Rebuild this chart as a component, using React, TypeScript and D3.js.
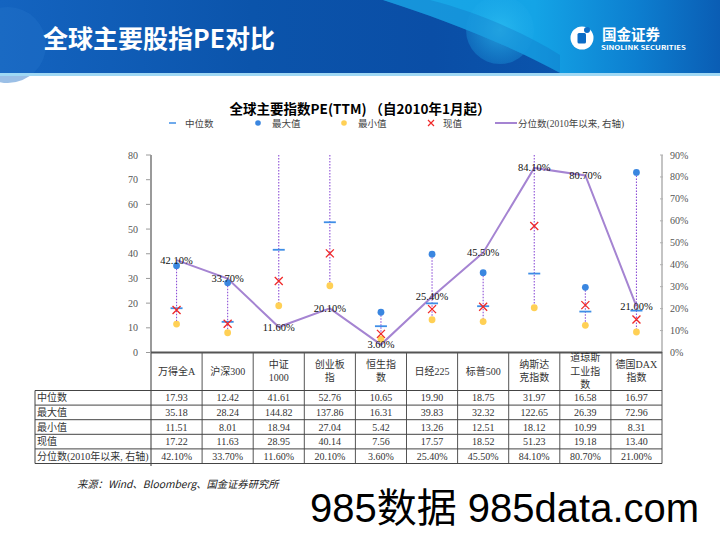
import React from "react";
import * as d3 from "d3";

const categories = ["万得全A", "沪深300", "中证\n1000", "创业板\n指", "恒生指\n数", "日经225", "标普500", "纳斯达\n克指数", "道琼斯\n工业指\n数", "德国DAX\n指数"];
const medianVals = [17.93, 12.42, 41.61, 52.76, 10.65, 19.9, 18.75, 31.97, 16.58, 16.97];
const maxVals = [35.18, 28.24, 144.82, 137.86, 16.31, 39.83, 32.32, 122.65, 26.39, 72.96];
const minVals = [11.51, 8.01, 18.94, 27.04, 5.42, 13.26, 12.51, 18.12, 10.99, 8.31];
const currentVals = [17.22, 11.63, 28.95, 40.14, 7.56, 17.57, 18.52, 51.23, 19.18, 13.4];
const pctVals = [42.1, 33.7, 11.6, 20.1, 3.6, 25.4, 45.5, 84.1, 80.7, 21.0];
const leftTicks = [0, 10, 20, 30, 40, 50, 60, 70, 80];
const rightTicks = [0, 10, 20, 30, 40, 50, 60, 70, 80, 90];
const rowLabels = ["中位数", "最大值", "最小值", "现值", "分位数(2010年以来, 右轴)"];

const SERIF = "'Liberation Serif','DejaVu Serif','Noto Sans CJK SC',serif";
const SANS = "'Noto Sans CJK SC','Noto Sans',sans-serif";

const C_MED = "#3f8ee6";
const C_MAX = "#3a86e0";
const C_MIN = "#ffd055";
const C_CUR = "#f02828";
const C_LINE = "#a584d2";
const C_DOT = "#8d4fd6";

export default function App() {
  const plotL = 151, plotR = 662, plotT = 155, plotB = 352.5;
  const x = d3.scaleBand<string>().domain(categories).range([plotL, plotR]).paddingInner(0).paddingOuter(0);
  const yL = d3.scaleLinear().domain([0, 80]).range([plotB, plotT]);
  const yR = d3.scaleLinear().domain([0, 90]).range([plotB, plotT]);
  const cx = (i: number) => (x(categories[i]) as number) + x.bandwidth() / 2;
  const clampY = (v: number) => Math.max(plotT, yL(v));

  const line = d3.line<number>().x((_, i) => cx(i)).y((d) => yR(d));

  const tableTop = plotB;
  const headerBottom = 390.5;
  const rowH = 14.6;
  const tableLeft = 35;
  const rowsData = [medianVals, maxVals, minVals, currentVals, pctVals];
  const fmtRow = (r: number, v: number) => (r === 4 ? v.toFixed(2) + "%" : v.toFixed(2));

  return (
    <div style={{ position: "absolute", left: 0, top: 0, width: 720, height: 540, background: "#fff" }}>
      <svg width={720} height={540} xmlns="http://www.w3.org/2000/svg" style={{ display: "block" }}>
        <defs>
          <linearGradient id="hdr" x1="0" x2="1" y1="0" y2="0">
            <stop offset="0" stopColor="#1464c0" />
            <stop offset="0.35" stopColor="#0b54ab" />
            <stop offset="0.6" stopColor="#0a4ea6" />
            <stop offset="1" stopColor="#0b5cb4" />
          </linearGradient>
          <linearGradient id="swoosh" x1="0" x2="1" y1="0" y2="0">
            <stop offset="0" stopColor="#1aa6e6" />
            <stop offset="0.45" stopColor="#14a4e6" />
            <stop offset="0.75" stopColor="#0d7fd0" />
            <stop offset="1" stopColor="#0a5db4" />
          </linearGradient>
          <radialGradient id="circ" cx="0.5" cy="0.5" r="0.5">
            <stop offset="0" stopColor="#2fc0f2" stopOpacity="0.7" />
            <stop offset="1" stopColor="#1eaaea" stopOpacity="0.3" />
          </radialGradient>
        </defs>
        {/* header */}
        <rect x={0} y={0} width={720} height={74} fill="url(#hdr)" />
        <circle cx={8} cy={45} r={38} fill="#2272c8" opacity={0.45} />
        <path d="M383,0 C440,18 510,45 562,74 L720,74 L720,0 Z" fill="url(#swoosh)" />
        <circle cx={500} cy={30} r={34} fill="url(#circ)" />
        <path d="M430,0 C470,10 520,30 560,55 L560,74 L562,74 C510,45 440,18 383,0 Z" fill="#0e5fb8" opacity={0.25} />
        <rect x={0} y={73} width={720} height={3} fill="#9fd8f4" />
        <text x={43} y={48} fill="#fff" fontFamily={SANS} fontWeight={700} fontSize={25}>全球主要股指PE对比</text>
        {/* logo */}
        <circle cx={582} cy={38} r={11.5} fill="#fff" />
        <rect x={577.5} y={33} width={8.5} height={10.5} rx={1.5} fill="#0b6cc6" />
        <circle cx={587} cy={30} r={3} fill="#0b6cc6" />
        <text x={602} y={39.5} fill="#fff" fontFamily={SANS} fontWeight={700} fontSize={14.5}>国金证券</text>
        <text x={601} y={50} fill="#fff" fontFamily={SANS} fontWeight={700} fontSize={6.3} textLength={85} lengthAdjust="spacingAndGlyphs">SINOLINK SECURITIES</text>

        {/* chart title */}
        <text x={360} y={114} textAnchor="middle" fontFamily={SANS} fontWeight={700} fontSize={13.5} fill="#000">全球主要指数PE(TTM) （自2010年1月起）</text>

        {/* legend */}
        <g fontFamily={SERIF} fontSize={9.5} fill="#444">
          <line x1={169} x2={176} y1={123} y2={123} stroke={C_MED} strokeWidth={1.5} />
          <text x={185} y={126.5}>中位数</text>
          <circle cx={258} cy={123} r={2.8} fill={C_MAX} />
          <text x={272} y={126.5}>最大值</text>
          <circle cx={344} cy={123} r={2.8} fill={C_MIN} />
          <text x={358} y={126.5}>最小值</text>
          <path d="M428,120 L434,126 M434,120 L428,126" stroke={C_CUR} strokeWidth={1.2} />
          <text x={443} y={126.5}>现值</text>
          <line x1={495} x2={517} y1={123} y2={123} stroke={C_LINE} strokeWidth={2} />
          <text x={518} y={126.5}>分位数(2010年以来, 右轴)</text>
        </g>

        {/* left axis */}
        <line x1={plotL} x2={plotL} y1={plotT} y2={466} stroke="#9a9a9a" strokeWidth={2} />
        {leftTicks.map((t) => (
          <g key={"l" + t}>
            <line x1={plotL - 5} x2={plotL} y1={yL(t)} y2={yL(t)} stroke="#9a9a9a" strokeWidth={1} />
            <text x={138} y={yL(t) + 3.5} textAnchor="end" fontFamily={SERIF} fontSize={10} fill="#555">{t}</text>
          </g>
        ))}
        {/* right axis */}
        <line x1={plotR} x2={plotR} y1={plotT} y2={tableTop} stroke="#b0b0b0" strokeWidth={1.5} />
        {rightTicks.map((t) => (
          <g key={"r" + t}>
            <line x1={plotR - 2} x2={plotR + 1} y1={yR(t)} y2={yR(t)} stroke="#b0b0b0" strokeWidth={1} />
            <text x={670} y={yR(t) + 3.5} fontFamily={SERIF} fontSize={10} fill="#555">{t}%</text>
          </g>
        ))}

        {/* percentile line */}
        <path d={line(pctVals) || ""} fill="none" stroke={C_LINE} strokeWidth={2} />

        {/* range dotted lines */}
        {categories.map((c, i) => (
          <line key={"rg" + i} x1={cx(i)} x2={cx(i)} y1={clampY(maxVals[i])} y2={yL(minVals[i])} stroke={C_DOT} strokeWidth={1.1} strokeDasharray="1.5,1.5" />
        ))}
        {/* markers */}
        {categories.map((c, i) => (
          <g key={"mk" + i}>
            {maxVals[i] <= 80 && <circle cx={cx(i)} cy={yL(maxVals[i])} r={3.4} fill={C_MAX} />}
            <circle cx={cx(i)} cy={yL(minVals[i])} r={3.4} fill={C_MIN} />
            <line x1={cx(i) - 6} x2={cx(i) + 6} y1={yL(medianVals[i])} y2={yL(medianVals[i])} stroke={C_MED} strokeWidth={1.8} />
            <path d={`M${cx(i) - 4},${yL(currentVals[i]) - 4} L${cx(i) + 4},${yL(currentVals[i]) + 4} M${cx(i) + 4},${yL(currentVals[i]) - 4} L${cx(i) - 4},${yL(currentVals[i]) + 4}`} stroke={C_CUR} strokeWidth={1.3} />
          </g>
        ))}
        {/* percentile labels */}
        {pctVals.map((v, i) => (
          <text key={"pl" + i} x={cx(i)} y={yR(v) + 3.5} textAnchor="middle" fontFamily={SERIF} fontSize={10.5} fill="#111">{v.toFixed(2)}%</text>
        ))}

        {/* table */}
        <line x1={plotL} x2={plotR} y1={tableTop} y2={tableTop} stroke="#555" strokeWidth={2} />
        {categories.map((c, i) => {
          const x0 = x(c) as number;
          const lines = c.split("\n");
          const lh = 13.5;
          const cy0 = 371 - ((lines.length - 1) * lh) / 2;
          return (
            <g key={"th" + i}>
              <line x1={x0 + x.bandwidth()} x2={x0 + x.bandwidth()} y1={tableTop} y2={headerBottom + rowH * 5} stroke="#555" strokeWidth={1} />
              {lines.map((ln, k) => (
                <text key={k} x={cx(i)} y={cy0 + k * lh + 3.5} textAnchor="middle" fontFamily={SERIF} fontSize={10} fill="#333">{ln}</text>
              ))}
            </g>
          );
        })}
        <line x1={tableLeft} x2={tableLeft} y1={headerBottom} y2={headerBottom + rowH * 5} stroke="#444" strokeWidth={1} />
        {[0, 1, 2, 3, 4, 5].map((r) => (
          <line key={"hl" + r} x1={tableLeft} x2={plotR} y1={headerBottom + r * rowH} y2={headerBottom + r * rowH} stroke="#444" strokeWidth={1} />
        ))}
        {rowLabels.map((lab, r) => (
          <g key={"row" + r}>
            <text x={tableLeft + 2} y={headerBottom + r * rowH + rowH / 2 + 3.5} fontFamily={SERIF} fontSize={10} fill="#333">{lab}</text>
            {rowsData[r].map((v, i) => (
              <text key={i} x={cx(i)} y={headerBottom + r * rowH + rowH / 2 + 3.5} textAnchor="middle" fontFamily={SERIF} fontSize={10} fill="#333">{fmtRow(r, v)}</text>
            ))}
          </g>
        ))}

        {/* source */}
        <text x={77} y={488} fontFamily={SANS} fontStyle="italic" fontSize={10.3} fill="#222">来源：Wind、Bloomberg、国金证券研究所</text>
        {/* watermark */}
        <text x={310} y={522} fontFamily="'Liberation Sans','Noto Sans CJK SC',sans-serif" fontSize={40} fill="#000">985数据 985data.com</text>
      </svg>
    </div>
  );
}
